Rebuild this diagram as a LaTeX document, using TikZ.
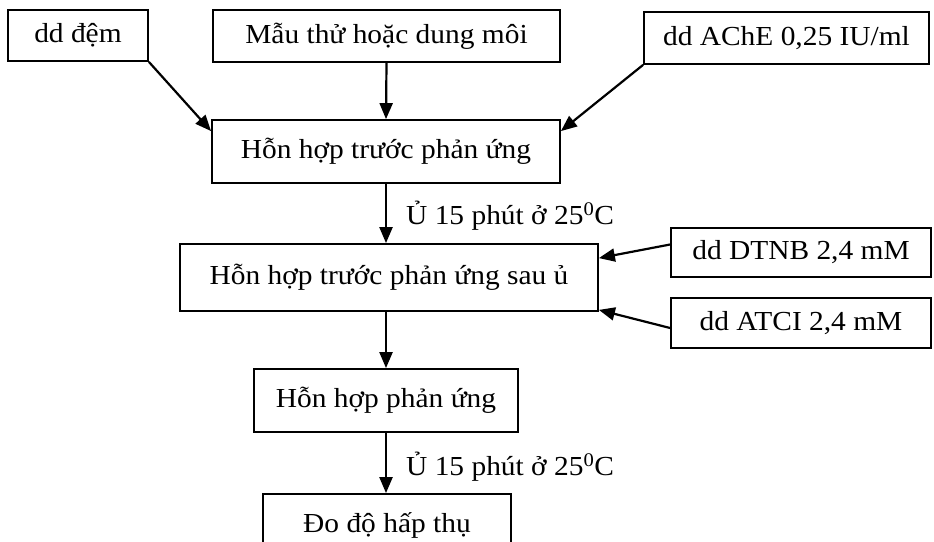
\documentclass[tikz,border=0pt]{standalone}
\usepackage{fontspec}
\setmainfont{Liberation Serif}[FakeStretch=1.07]
\usetikzlibrary{arrows.meta}
\begin{document}
\begin{tikzpicture}[x=1pt,y=-1pt,
  box/.style={draw,line width=1.8pt,inner sep=0pt,align=center,font=\fontsize{27.5}{31}\selectfont},
  arr/.style={line width=2.2pt,-{Triangle[length=16pt,width=13pt]}},
  lab/.style={anchor=west,inner sep=0pt,font=\fontsize{27.5}{31}\selectfont}]
\useasboundingbox (0,0) rectangle (934,541);
\clip (0,0) rectangle (934,541);
\node[box,minimum width=140pt,minimum height=51pt] (dem) at (78,35.5) {dd đệm};
\node[box,minimum width=347pt,minimum height=52pt] (mau) at (386.5,36) {Mẫu thử hoặc dung môi};
\node[box,minimum width=285pt,minimum height=52pt] (ache) at (786.5,38) {dd AChE 0,25 IU/ml};
\node[box,minimum width=348pt,minimum height=63pt] (hh1) at (386,151.5) {Hỗn hợp trước phản ứng};
\node[box,minimum width=418pt,minimum height=67pt] (hh2) at (389,277.5) {Hỗn hợp trước phản ứng sau ủ};
\node[box,minimum width=260pt,minimum height=49pt] (dtnb) at (801,252.5) {dd DTNB 2,4 mM};
\node[box,minimum width=260pt,minimum height=50pt] (atci) at (801,323) {dd ATCI 2,4 mM};
\node[box,minimum width=264pt,minimum height=63pt] (hh3) at (386,400.5) {Hỗn hợp phản ứng};
\node[box,minimum width=248pt,minimum height=63pt] (do) at (387,525.5) {Đo độ hấp thụ};
\node[lab] (lab1) at (406,216) {Ủ 15 phút ở 25\textsuperscript{0}C};
\node[lab] (lab2) at (406,467) {Ủ 15 phút ở 25\textsuperscript{0}C};
\draw[arr] (dem.south east) -- ([yshift=-12pt]hh1.north west);
\draw[arr] (mau.south) -- (hh1.north);
\draw[arr] (ache.south west) -- ([yshift=-12pt]hh1.north east);
\draw[arr] (hh1.south) -- (hh1.south |- hh2.north);
\draw[arr] ([yshift=8pt]dtnb.west) -- ([yshift=-15pt]hh2.north east);
\draw[arr] ([yshift=-5pt]atci.west) -- ([yshift=2pt]hh2.south east);
\draw[arr] (hh2.south -| hh3.north) -- (hh3.north);
\draw[arr] (hh3.south) -- (hh3.south |- do.north);
\end{tikzpicture}
\end{document}
